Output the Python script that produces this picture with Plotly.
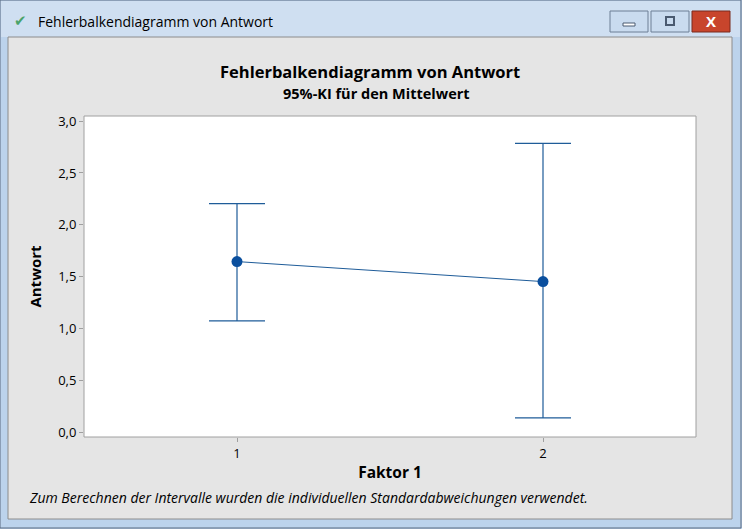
import plotly.graph_objects as go

# Faktor 1 levels, means and 95% CI bounds
faktor = [1, 2]
mittelwert = [1.645, 1.452]
ki_oben = [2.205, 2.785]
ki_unten = [1.072, 0.136]
y_ticks = [0.0, 0.5, 1.0, 1.5, 2.0, 2.5, 3.0]

W, H = 742, 529
L, R, T, B = 84, 696, 116, 437  # plot area in pixels


def px(x):
    return (x - L) / (R - L)


def py(y):
    return (B - y) / (B - T)


err_plus = [o - m for o, m in zip(ki_oben, mittelwert)]
err_minus = [m - u for m, u in zip(mittelwert, ki_unten)]

fig = go.Figure()
fig.add_trace(go.Scatter(
    x=faktor, y=mittelwert,
    mode="lines+markers",
    line=dict(color="#1f5c99", width=1),
    marker=dict(color="#0a4f9e", size=11),
    error_y=dict(type="data", symmetric=False, array=err_plus, arrayminus=err_minus,
                 color="#1f5c99", thickness=1.2, width=28),
    showlegend=False,
))

shapes = [
    # window frame + title bar
    dict(type="rect", xref="paper", yref="paper", x0=px(0), x1=px(W - 1), y0=py(H - 1), y1=py(0),
         fillcolor="#bcd3ec", line=dict(color="#5b6b80", width=1), layer="below"),
    dict(type="rect", xref="paper", yref="paper", x0=px(1), x1=px(W - 2), y0=py(37), y1=py(1),
         fillcolor="#cfdff1", line=dict(width=0), layer="below"),
    # client area
    dict(type="rect", xref="paper", yref="paper", x0=px(8), x1=px(732), y0=py(519), y1=py(37),
         fillcolor="#e5e5e5", line=dict(color="#8c8c8c", width=1), layer="below"),
    # plot area
    dict(type="rect", xref="paper", yref="paper", x0=0, x1=1, y0=0, y1=1,
         fillcolor="white", line=dict(color="#a0a0a0", width=1), layer="below"),
    # buttons
    dict(type="rect", xref="paper", yref="paper", x0=px(610), x1=px(648), y0=py(32), y1=py(11),
         fillcolor="#c9dbef", line=dict(color="#6d7e95", width=1), layer="below"),
    dict(type="rect", xref="paper", yref="paper", x0=px(623), x1=px(635), y0=py(26), y1=py(23),
         fillcolor="white", line=dict(color="#4a5a70", width=1), layer="below"),
    dict(type="rect", xref="paper", yref="paper", x0=px(651), x1=px(689), y0=py(32), y1=py(11),
         fillcolor="#c9dbef", line=dict(color="#6d7e95", width=1), layer="below"),
    dict(type="rect", xref="paper", yref="paper", x0=px(666), x1=px(674), y0=py(25), y1=py(17),
         fillcolor="#c9dbef", line=dict(color="#4a5a70", width=2), layer="below"),
    dict(type="rect", xref="paper", yref="paper", x0=px(692), x1=px(730), y0=py(32), y1=py(11),
         fillcolor="#c8452c", line=dict(color="#7a2a1c", width=1), layer="below"),
]

annotations = [
    dict(text="Fehlerbalkendiagramm von Antwort", x=px(36), y=py(22), xanchor="left", yanchor="middle",
         font=dict(size=14, color="black", family="Open Sans")),
    dict(text="<b>X</b>", x=px(711), y=py(21), xanchor="center", yanchor="middle",
         font=dict(size=15, color="white", family="Open Sans")),
    dict(text="✔", x=px(20), y=py(20), xanchor="center", yanchor="middle",
         font=dict(size=15, color="#4aa36a")),
    dict(text="<b>Fehlerbalkendiagramm von Antwort</b>", x=px(370), y=py(71), xanchor="center", yanchor="middle",
         font=dict(size=16.5, color="black", family="Open Sans")),
    dict(text="<b>95%-KI für den Mittelwert</b>", x=px(376), y=py(93), xanchor="center", yanchor="middle",
         font=dict(size=14.5, color="black", family="Open Sans")),
    dict(text="<i>Zum Berechnen der Intervalle wurden die individuellen Standardabweichungen verwendet.</i>",
         x=px(27), y=py(497), xanchor="left", yanchor="middle",
         font=dict(size=14, color="black", family="Open Sans")),
]
for a in annotations:
    a.update(xref="paper", yref="paper", showarrow=False)

fig.update_layout(
    width=W, height=H,
    margin=dict(l=L, r=W - R, t=T, b=H - B, pad=0),
    paper_bgcolor="#bcd3ec",
    plot_bgcolor="white",
    separators=",.",
    font=dict(family="Open Sans", size=13, color="black"),
    shapes=shapes,
    annotations=annotations,
    xaxis=dict(
        range=[0.5, 2.5], tickvals=faktor, ticktext=[str(f) for f in faktor],
        ticks="outside", ticklen=4, tickcolor="#a0a0a0", showgrid=False, zeroline=False,
        showline=False,
        title=dict(text="<b>Faktor 1</b>", font=dict(size=15.5), standoff=6),
    ),
    yaxis=dict(
        range=[-0.048, 3.05], tickvals=y_ticks, tickformat=".1f",
        ticks="outside", ticklen=4, tickcolor="#a0a0a0", showgrid=False, zeroline=False,
        showline=False,
        title=dict(text="<b>Antwort</b>", font=dict(size=15), standoff=12),
    ),
)

fig.write_html("out.html", config={"displayModeBar": False},
               post_script="document.body.style.margin='0';document.body.style.overflow='hidden';")
